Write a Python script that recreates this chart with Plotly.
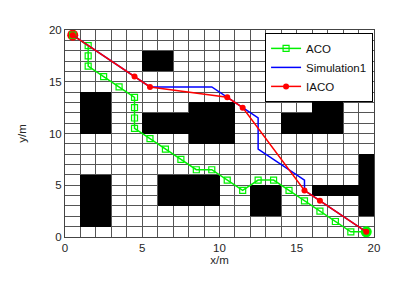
import plotly.graph_objects as go

# Grid map: rows listed from top (y=19) to bottom (y=0); '#' = obstacle
MAP_ROWS = [
    "....................",
    "....................",
    ".....##.............",
    ".....##.............",
    "....................",
    "................##..",
    ".##.............##..",
    ".##.....###.....##..",
    ".##..######...####..",
    ".##..######...####..",
    "........###.........",
    "....................",
    "...................#",
    "...................#",
    ".##...####.........#",
    ".##...####..##..####",
    ".##...####..##.....#",
    ".##.........##.....#",
    ".##.................",
    "....................",
]

aco_x = [0.5, 1.5, 1.5, 1.5, 2.5, 3.5, 4.5, 4.5, 4.5, 4.5, 5.5, 6.5, 7.5, 8.5, 9.5,
         10.5, 11.5, 12.5, 13.5, 14.5, 15.5, 16.5, 17.5, 18.5, 19.5]
aco_y = [19.5, 18.5, 17.5, 16.5, 15.5, 14.5, 13.5, 12.5, 11.5, 10.5, 9.5, 8.5, 7.5, 6.5, 6.5,
         5.5, 4.5, 5.5, 5.5, 4.5, 3.5, 2.5, 1.5, 0.5, 0.5]

sim_x = [0.5, 4.5, 5.5, 9.5, 10.5, 11.5, 12.5, 12.5, 15.5, 15.5, 16.5, 19.5]
sim_y = [19.5, 15.5, 14.5, 14.5, 13.5, 12.5, 11.5, 8.5, 5.5, 4.5, 3.5, 0.5]

iaco_x = [0.5, 4.5, 5.5, 10.5, 11.5, 15.5, 16.5, 19.5]
iaco_y = [19.5, 15.5, 14.5, 13.5, 12.5, 4.5, 3.5, 0.5]

start_pt = (0.5, 19.5)
goal_pt = (19.5, 0.5)

tick_vals = [0, 5, 10, 15, 20]
tick_text = ["0", "5", "10", "15", "20"]

n = len(MAP_ROWS)
z = []
for r in range(n):
    row = MAP_ROWS[n - 1 - r]
    z.append([1 if ch == "#" else None for ch in row])
cx = [i + 0.5 for i in range(len(MAP_ROWS[0]))]
cy = [i + 0.5 for i in range(n)]

FONT = "Arial, Liberation Sans, sans-serif"
GRID = "#555555"
fig = go.Figure()
fig.add_trace(go.Heatmap(x=cx, y=cy, z=z, colorscale=[[0, "black"], [1, "black"]],
                         showscale=False, hoverinfo="skip", zmin=0, zmax=1))
fig.add_trace(go.Scatter(x=[start_pt[0]], y=[start_pt[1]], mode="markers",
                         marker=dict(color="#ff0000", size=11), showlegend=False))
fig.add_trace(go.Scatter(x=[goal_pt[0]], y=[goal_pt[1]], mode="markers",
                         marker=dict(color="#00ff00", size=11), showlegend=False))
fig.add_trace(go.Scatter(x=aco_x, y=aco_y, mode="lines+markers", name="ACO",
                         line=dict(color="#00f000", width=1.5),
                         marker=dict(symbol="square-open", size=6, color="#00f000", line=dict(width=1.2))))
fig.add_trace(go.Scatter(x=sim_x, y=sim_y, mode="lines", name="Simulation1",
                         line=dict(color="#0000ff", width=1.5)))
fig.add_trace(go.Scatter(x=iaco_x, y=iaco_y, mode="lines+markers", name="IACO",
                         line=dict(color="#ff0000", width=1.5),
                         marker=dict(symbol="circle", size=6, color="#ff0000")))

axis_common = dict(range=[0, 20], tickvals=tick_vals, ticktext=tick_text,
                   showgrid=True, gridcolor=GRID, gridwidth=1,
                   minor=dict(dtick=1, tick0=0, showgrid=True, gridcolor=GRID, gridwidth=1),
                   showline=True, linecolor="#444444", linewidth=1, mirror=True,
                   zeroline=False, ticks="", tickfont=dict(size=11.5, color="#262626", family=FONT))
fig.update_layout(
    width=417, height=285,
    margin=dict(l=57, r=51, t=22, b=56),
    paper_bgcolor="white", plot_bgcolor="white",
    font=dict(family=FONT, size=11.5, color="#262626"),
    xaxis=dict(**axis_common, title=dict(text="x/m", standoff=2, font=dict(size=11.5))),
    yaxis=dict(**axis_common, title=dict(text="y/m", standoff=19, font=dict(size=11.5))),
    legend=dict(x=0.997, y=0.986, xanchor="right", yanchor="top", bgcolor="white",
                bordercolor="black", borderwidth=1, font=dict(size=11.5, color="#111111"),
                itemwidth=30, tracegroupgap=0),
    showlegend=True,
)
fig.write_html("out.html")
